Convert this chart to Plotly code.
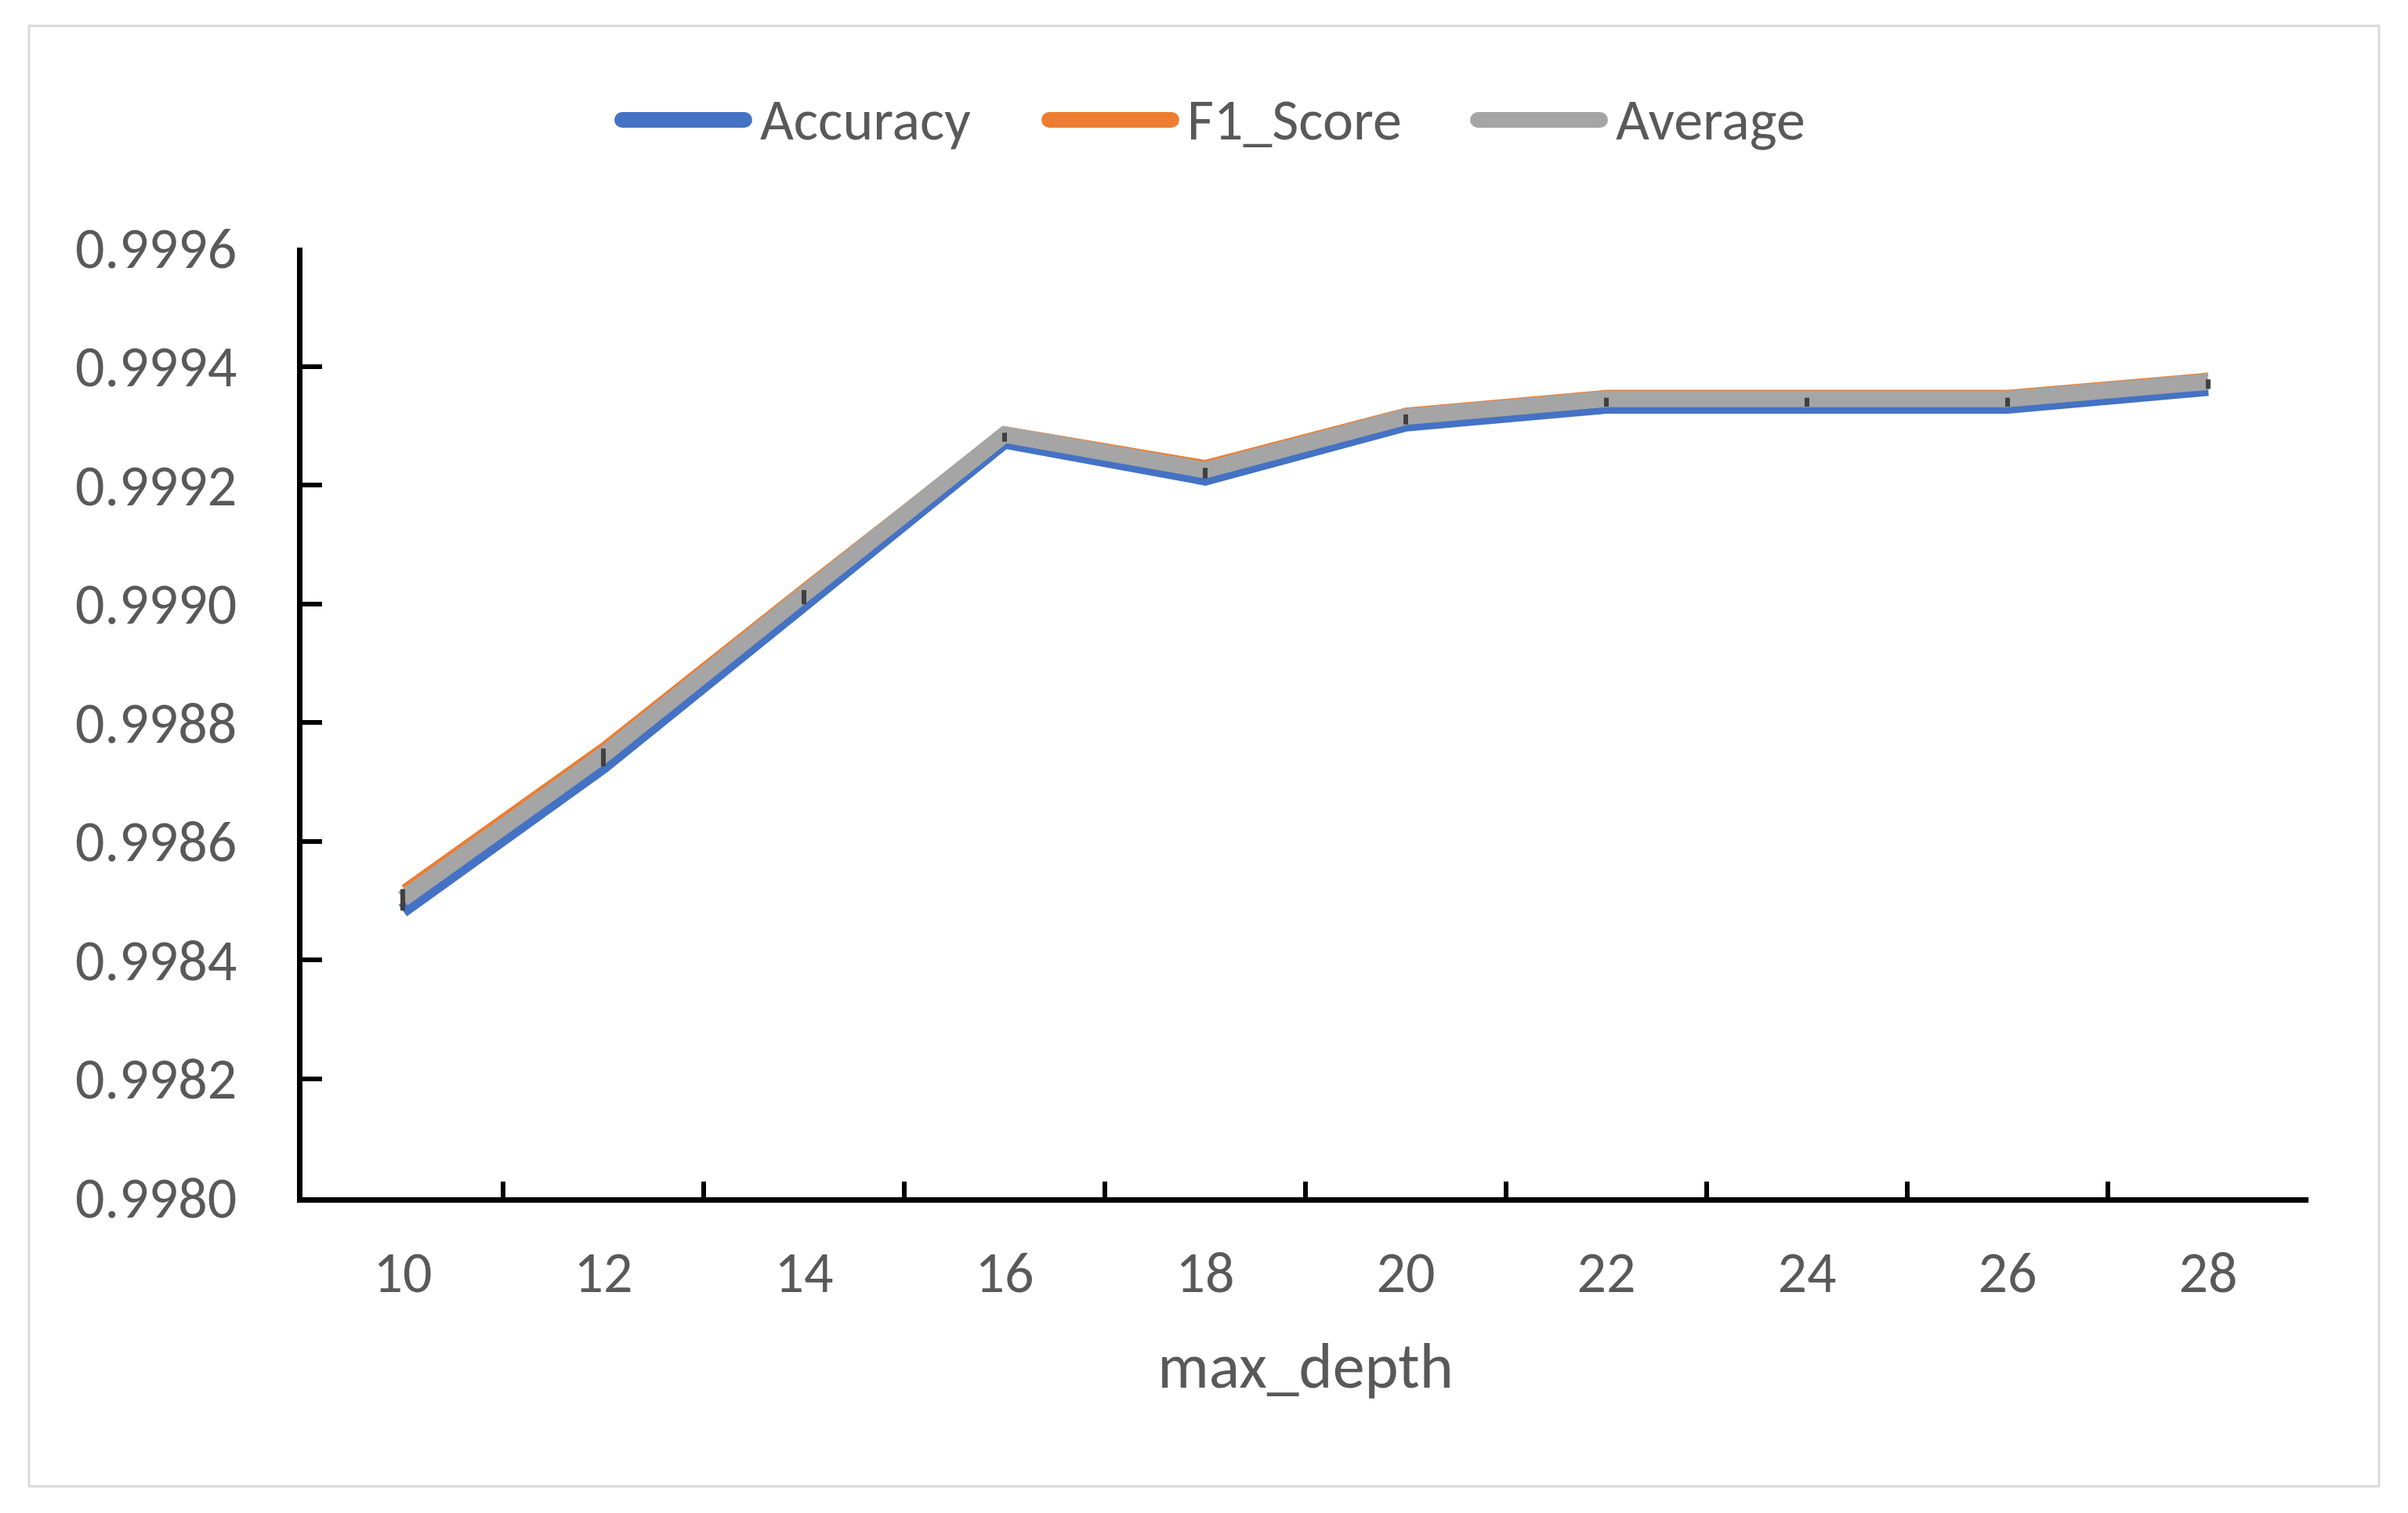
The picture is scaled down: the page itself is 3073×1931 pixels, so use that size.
import plotly.graph_objects as go

max_depth = ["10", "12", "14", "16", "18", "20", "22", "24", "26", "28"]
accuracy = [0.998483, 0.998726, 0.998999, 0.999273, 0.999211, 0.999302, 0.999332, 0.999332, 0.999332, 0.999362]
f1_score = [0.998523, 0.998764, 0.999032, 0.999296, 0.999239, 0.999327, 0.999357, 0.999357, 0.999357, 0.999386]
average = [0.998503, 0.998745, 0.999016, 0.999285, 0.999225, 0.999315, 0.999345, 0.999345, 0.999345, 0.999374]
bar_low = [0.998483, 0.998726, 0.998999, 0.999273, 0.999211, 0.999302, 0.999332, 0.999332, 0.999332, 0.999362]
bar_high = [0.998519, 0.998756, 0.999023, 0.999288, 0.999229, 0.999319, 0.999347, 0.999347, 0.999347, 0.999378]

series_names = ["Accuracy", "F1_Score", "Average"]
series_colors = ["#4472C4", "#ED7D31", "#A5A5A5"]

# page has an 8px body margin; figure sized to fit inside the window
W, H = 3057, 1915
OFF = 8
PX0, PX1, PY0, PY1 = 386, 2946, 316, 1528  # plot area on screen
L, R, T, B = PX0 - OFF, W - (PX1 - OFF), PY0 - OFF, H - (PY1 - OFF)
FONT = "Carlito, Lato, 'Open Sans', sans-serif"
GREY = "#595959"
pw = PX1 - PX0
ph = PY1 - PY0


def px(sx):
    return (sx - PX0) / pw


def py(sy):
    return (PY1 - sy) / ph


fig = go.Figure()
fig.add_trace(go.Scatter(x=max_depth, y=accuracy, name=series_names[0], mode="lines",
                         line=dict(color=series_colors[0], width=18)))
fig.add_trace(go.Scatter(x=max_depth, y=f1_score, name=series_names[1], mode="lines",
                         line=dict(color=series_colors[1], width=5)))
fig.add_trace(go.Scatter(x=max_depth, y=average, name=series_names[2], mode="lines",
                         line=dict(color=series_colors[2], width=21)))
# error bars drawn above the Average line
fig.add_trace(go.Scatter(
    x=max_depth, y=average, mode="markers", marker=dict(size=1, opacity=0),
    showlegend=False, hoverinfo="skip",
    error_y=dict(type="data", symmetric=False,
                 array=[h - a for h, a in zip(bar_high, average)],
                 arrayminus=[a - l for a, l in zip(average, bar_low)],
                 color="#404040", thickness=6, width=0),
))

# chart border
fig.add_shape(type="rect", xref="paper", yref="paper",
              x0=px(37), x1=px(3036), y0=py(1897), y1=py(33),
              line=dict(color="#D9D9D9", width=3), fillcolor="rgba(0,0,0,0)", layer="below")

# legend (drawn to match thick round-ended samples)
leg_starts = [784, 1329, 1876]
leg_len = 176
leg_y = 153
for name, col, s in zip(series_names, series_colors, leg_starts):
    fig.add_shape(type="line", xref="paper", yref="paper",
                  x0=px(s + 10), x1=px(s + leg_len - 10), y0=py(leg_y), y1=py(leg_y),
                  line=dict(color=col, width=20))
    for cx in (s + 10, s + leg_len - 10):
        fig.add_shape(type="circle", xref="paper", yref="paper",
                      x0=px(cx - 10), x1=px(cx + 10), y0=py(leg_y + 10), y1=py(leg_y - 10),
                      line=dict(width=0), fillcolor=col)
    fig.add_annotation(text=name, xref="paper", yref="paper", x=px(s + leg_len + 8), y=py(leg_y),
                       xanchor="left", yanchor="middle", showarrow=False,
                       font=dict(size=74, color=GREY, family=FONT))

fig.update_layout(
    width=W, height=H,
    margin=dict(l=L, r=R, t=T, b=B, autoexpand=False),
    paper_bgcolor="white", plot_bgcolor="white",
    font=dict(family=FONT, color=GREY, size=74),
    showlegend=False,
    xaxis=dict(type="category", range=[-0.5, 9.5], tickson="boundaries",
               ticks="inside", ticklen=20, tickwidth=6, tickcolor="black",
               showline=True, linewidth=7, linecolor="black",
               showgrid=False, zeroline=False,
               tickfont=dict(size=74, color=GREY, family=FONT),
               ticklabelstandoff=25,
               title=dict(text="max_depth", font=dict(size=82, color=GREY, family=FONT), standoff=48)),
    yaxis=dict(range=[0.9980, 0.9996], tick0=0.9980, dtick=0.0002, tickformat=".4f",
               ticks="inside", ticklen=25, tickwidth=6, tickcolor="black",
               showline=True, linewidth=7, linecolor="black",
               showgrid=False, zeroline=False,
               tickfont=dict(size=74, color=GREY, family=FONT),
               ticklabelstandoff=62),
)

fig.write_html("out.html")
